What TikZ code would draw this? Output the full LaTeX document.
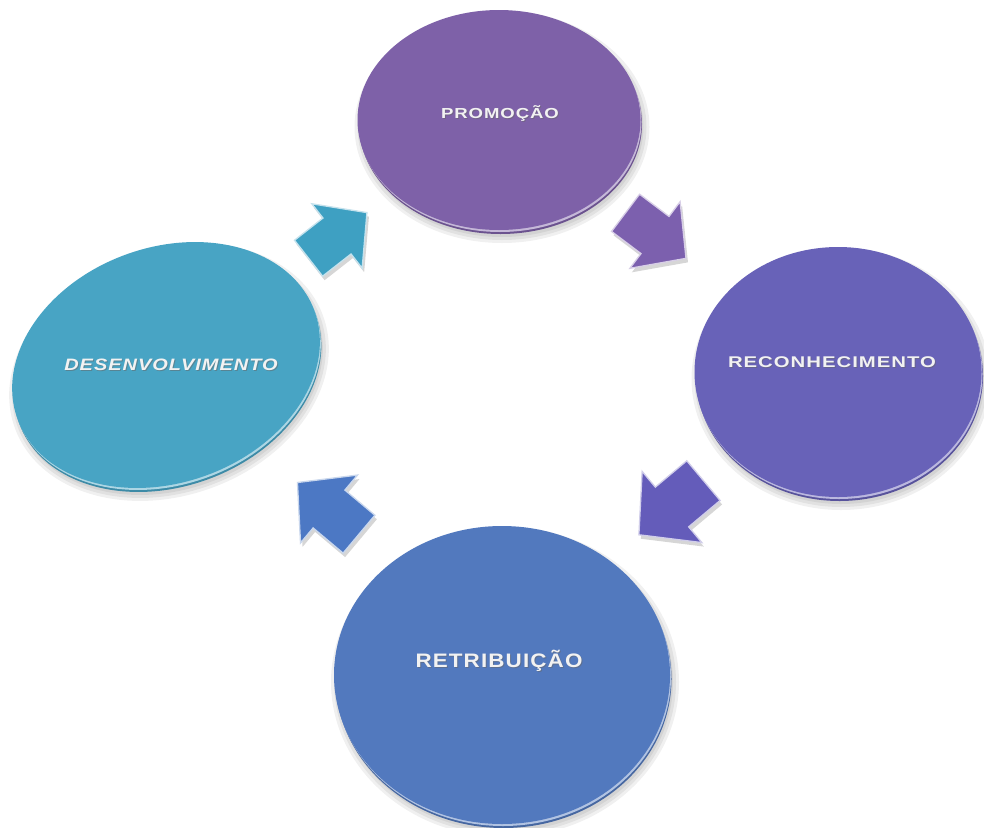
\documentclass[tikz,border=0pt]{standalone}
\usepackage{fontspec}
\setmainfont{Liberation Sans}
\begin{document}
\begin{tikzpicture}[x=1pt,y=-1pt]
% face colours of the four discs and the four block arrows
\definecolor{promoC}{RGB}{126,97,168}
\definecolor{reconC}{RGB}{104,98,184}
\definecolor{retriC}{RGB}{82,121,190}
\definecolor{desenC}{RGB}{72,164,196}
\definecolor{arrA}{RGB}{62,160,194}
\definecolor{arrB}{RGB}{124,96,174}
\definecolor{arrC}{RGB}{100,92,186}
\definecolor{arrD}{RGB}{76,120,196}
\tikzset{
  lbl/.style={text=white!95!black, anchor=base, inner sep=0pt, transform shape},
  lblshadow/.style={text=black!60, opacity=0.5, anchor=base, inner sep=0pt, transform shape},
  arrowshadow/.style={fill=black, opacity=0.16},
}
\useasboundingbox (0,0) rectangle (984,827);
\fill[white] (0,0) rectangle (984,827);

% a tilted disc with a soft shadow, a dark rim and a light edge
% #1,#2 centre, #3,#4 radii, #5 tilt, #6 colour
\newcommand\tiltdisc[6]{%
  \foreach \g in {6,3,0}{
    \fill[black, opacity=0.06, shift={(#1,#2)}, shift={(3,7)}, rotate=#5]
      (0,0) ellipse[x radius=#3pt+\g pt, y radius=#4pt+\g pt];
  }
  \fill[#6!85!black, shift={(#1,#2)}, shift={(1.5,4)}, rotate=#5]
    (0,0) ellipse[x radius=#3pt, y radius=#4pt];
  \fill[#6!45!white, shift={(#1,#2)}, shift={(1,2)}, rotate=#5]
    (0,0) ellipse[x radius=#3pt, y radius=#4pt];
  \fill[#6, shift={(#1,#2)}, rotate=#5]
    (0,0) ellipse[x radius=#3pt, y radius=#4pt];
}

% a block arrow: #1,#2 centre, #3 direction, #4 colour, #5 size factor
\newcommand\blockarrow[5]{%
  \fill[arrowshadow, shift={(#1,#2)}, shift={(2,4)}, rotate=#3, scale=#5]
    (-38,-24) -- (0,-24) -- (0,-43) -- (40,0) -- (0,43) -- (0,24) -- (-38,24) -- cycle;
  \filldraw[fill=#4, draw=#4!30!white, line width=1.3pt, line join=miter,
      shift={(#1,#2)}, rotate=#3, scale=#5]
    (-38,-24) -- (0,-24) -- (0,-43) -- (40,0) -- (0,43) -- (0,24) -- (-38,24) -- cycle;
}

% discs
\tiltdisc{499}{120}{141.5}{110}{0}{promoC}
\tiltdisc{838}{372}{143.5}{125}{0}{reconC}
\tiltdisc{502}{675}{168}{149}{0}{retriC}
\tiltdisc{166}{365}{158}{117.5}{20}{desenC}

% arrows running round the cycle
\blockarrow{337}{236}{38}{arrA}{0.95}
\blockarrow{655}{235}{-37}{arrB}{0.97}
\blockarrow{672}{507}{220}{arrC}{1.08}
\blockarrow{329}{509}{140}{arrD}{1.03}

% labels
\node[lblshadow, xscale=1.28, font=\bfseries\fontsize{14.5}{17}\selectfont\addfontfeature{LetterSpace=5}]
  (promoS) at (501,119.5) {PROMOÇÃO};
\node[lbl, xscale=1.28, font=\bfseries\fontsize{14.5}{17}\selectfont\addfontfeature{LetterSpace=5}]
  (promo) at (500,118) {PROMOÇÃO};

\node[lblshadow, xscale=1.31, font=\bfseries\fontsize{15.5}{18}\selectfont\addfontfeature{LetterSpace=5}]
  (reconS) at (833,368.5) {RECONHECIMENTO};
\node[lbl, xscale=1.31, font=\bfseries\fontsize{15.5}{18}\selectfont\addfontfeature{LetterSpace=5}]
  (recon) at (832,367) {RECONHECIMENTO};

\node[lblshadow, xscale=1.21, font=\bfseries\itshape\fontsize{16.5}{19}\selectfont\addfontfeature{LetterSpace=5}]
  (desenS) at (172,371.5) {DESENVOLVIMENTO};
\node[lbl, xscale=1.21, font=\bfseries\itshape\fontsize{16.5}{19}\selectfont\addfontfeature{LetterSpace=5}]
  (desen) at (171,370) {DESENVOLVIMENTO};

\node[lblshadow, xscale=1.15, font=\bfseries\fontsize{19.5}{23}\selectfont\addfontfeature{LetterSpace=5}]
  (retriS) at (500,668.5) {RETRIBUIÇÃO};
\node[lbl, xscale=1.15, font=\bfseries\fontsize{19.5}{23}\selectfont\addfontfeature{LetterSpace=5}]
  (retri) at (499,667) {RETRIBUIÇÃO};
\end{tikzpicture}
\end{document}
